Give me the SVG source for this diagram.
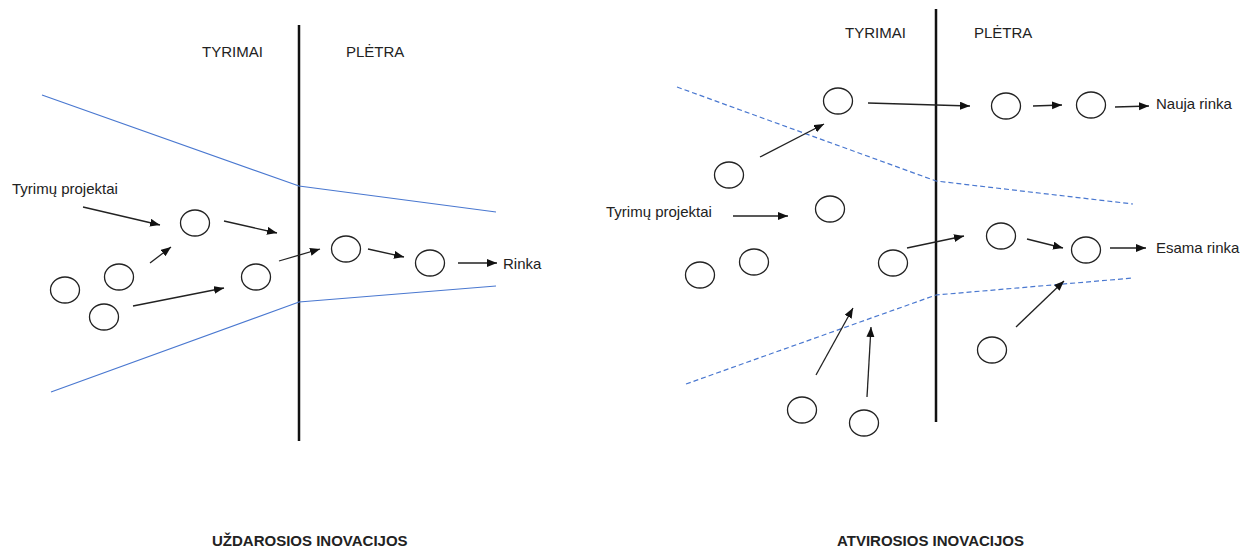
<svg xmlns="http://www.w3.org/2000/svg" width="1242" height="547" viewBox="0 0 1242 547">
  <style>
    text { font-family: "Liberation Sans", Arial, sans-serif; font-size: 15px; fill: #222; }
    .title { font-weight: bold; }
    .node { fill: none; stroke: #222; stroke-width: 1.3; }
    .divider { stroke: #111; stroke-width: 2.5; }
    .funnel { fill: none; stroke: #4a78d0; stroke-width: 1.2; }
    .funnel-open { fill: none; stroke: #4a78d0; stroke-width: 1.2; stroke-dasharray: 5 3; }
    .arrow { stroke: #222; stroke-width: 1.3; fill: none; marker-end: url(#head); }
  </style>
  <defs>
    <marker id="head" markerUnits="userSpaceOnUse" markerWidth="11" markerHeight="9" refX="10" refY="4" orient="auto">
      <path d="M0,0 L10,4 L0,8 z" fill="#111"/>
    </marker>
  </defs>
  <rect width="1242" height="547" fill="#fff"/>

  <!-- closed innovation (left) -->
  <g id="closed-frame">
    <line class="divider" x1="299" y1="25" x2="299" y2="441"/>
    <polyline class="funnel" points="42,95 299,186 496,212"/>
    <polyline class="funnel" points="51,392 299,302 496,286"/>
    <text x="202" y="57">TYRIMAI</text>
    <text x="346" y="57">PLĖTRA</text>
    <text x="12" y="194">Tyrimų projektai</text>
    <text x="503" y="269">Rinka</text>
    <text class="title" x="212" y="546">UŽDAROSIOS INOVACIJOS</text>
  </g>
  <g id="closed-nodes">
    <ellipse id="c1" class="node" cx="195" cy="223" rx="14.5" ry="13"/>
    <ellipse id="c2" class="node" cx="119" cy="277" rx="14.5" ry="13"/>
    <ellipse id="c3" class="node" cx="65" cy="290" rx="14.5" ry="13"/>
    <ellipse id="c4" class="node" cx="104" cy="317" rx="14.5" ry="13"/>
    <ellipse id="c5" class="node" cx="256" cy="277" rx="14.5" ry="13"/>
    <ellipse id="c6" class="node" cx="346" cy="249" rx="14.5" ry="13"/>
    <ellipse id="c7" class="node" cx="430" cy="263" rx="14.5" ry="13"/>
  </g>
  <g id="closed-connectors">
    <line class="arrow" x1="83" y1="207" x2="160" y2="225"/>
    <line class="arrow" x1="150" y1="263" x2="171" y2="247"/>
    <line class="arrow" x1="224" y1="221" x2="277" y2="233"/>
    <line class="arrow" x1="133" y1="306" x2="224" y2="288"/>
    <line class="arrow" x1="279" y1="261" x2="320" y2="249"/>
    <line class="arrow" x1="368" y1="249" x2="404" y2="257"/>
    <line class="arrow" x1="458" y1="263" x2="497" y2="263"/>
  </g>

  <!-- open innovation (right) -->
  <g id="open-frame">
    <line class="divider" x1="936" y1="9" x2="936" y2="422"/>
    <polyline class="funnel-open" points="677,87 936,181 1133,204"/>
    <polyline class="funnel-open" points="686,384 936,295 1133,278"/>
    <text x="845" y="38">TYRIMAI</text>
    <text x="974" y="38">PLĖTRA</text>
    <text x="606" y="217">Tyrimų projektai</text>
    <text x="1156" y="109">Nauja rinka</text>
    <text x="1156" y="253">Esama rinka</text>
    <text class="title" x="837" y="546">ATVIROSIOS INOVACIJOS</text>
  </g>
  <g id="open-nodes">
    <ellipse id="o1" class="node" cx="838" cy="101" rx="14.5" ry="13"/>
    <ellipse id="o2" class="node" cx="729" cy="175" rx="14.5" ry="13"/>
    <ellipse id="o3" class="node" cx="830" cy="209" rx="14.5" ry="13"/>
    <ellipse id="o4" class="node" cx="1006" cy="106" rx="14.5" ry="13"/>
    <ellipse id="o5" class="node" cx="1091" cy="105" rx="14.5" ry="13"/>
    <ellipse id="o6" class="node" cx="700" cy="275" rx="14.5" ry="13"/>
    <ellipse id="o7" class="node" cx="754" cy="262" rx="14.5" ry="13"/>
    <ellipse id="o8" class="node" cx="893" cy="263" rx="14.5" ry="13"/>
    <ellipse id="o9" class="node" cx="1001" cy="236" rx="14.5" ry="13"/>
    <ellipse id="o10" class="node" cx="1086" cy="250" rx="14.5" ry="13"/>
    <ellipse id="o11" class="node" cx="802" cy="410" rx="14.5" ry="13"/>
    <ellipse id="o12" class="node" cx="864" cy="423" rx="14.5" ry="13"/>
    <ellipse id="o13" class="node" cx="992" cy="350" rx="14.5" ry="13"/>
  </g>
  <g id="open-connectors">
    <line class="arrow" x1="760" y1="157" x2="824" y2="124"/>
    <line class="arrow" x1="733" y1="216" x2="788" y2="216"/>
    <line class="arrow" x1="868" y1="103" x2="970" y2="106"/>
    <line class="arrow" x1="1033" y1="106" x2="1062" y2="105"/>
    <line class="arrow" x1="1115" y1="107" x2="1149" y2="106"/>
    <line class="arrow" x1="907" y1="248" x2="964" y2="236"/>
    <line class="arrow" x1="1027" y1="239" x2="1063" y2="248"/>
    <line class="arrow" x1="1110" y1="248" x2="1146" y2="248"/>
    <line class="arrow" x1="816" y1="375" x2="853" y2="308"/>
    <line class="arrow" x1="867" y1="397" x2="871" y2="327"/>
    <line class="arrow" x1="1016" y1="327" x2="1064" y2="281"/>
  </g>
</svg>
